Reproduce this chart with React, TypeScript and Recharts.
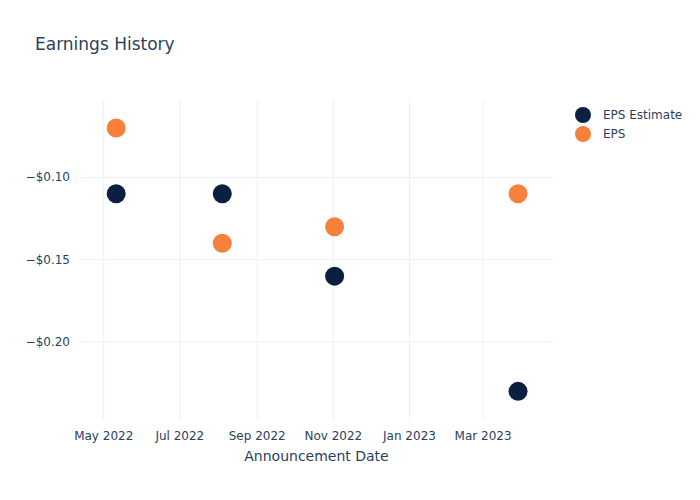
import React from "react";
import { ScatterChart, Scatter, XAxis, YAxis, ReferenceLine } from "recharts";

const dates = ["2022-05-11", "2022-08-04", "2022-11-02", "2023-03-29"];
const epsEstimate = [-0.11, -0.11, -0.16, -0.23];
const eps = [-0.07, -0.14, -0.13, -0.11];
const xTickDates = ["2022-05-01", "2022-07-01", "2022-09-01", "2022-11-01", "2023-01-01", "2023-03-01"];
const yTicks = [-0.2, -0.15, -0.1];
const months = ["Jan", "Feb", "Mar", "Apr", "May", "Jun", "Jul", "Aug", "Sep", "Oct", "Nov", "Dec"];
const seriesNames = ["EPS Estimate", "EPS"];

const ts = (d: string) => Date.parse(d + "T00:00:00Z");

const estimateData = dates.map((d, i) => ({ date: ts(d), value: epsEstimate[i] }));
const epsData = dates.map((d, i) => ({ date: ts(d), value: eps[i] }));
const xTicks = xTickDates.map(ts);

const FONT = "'DejaVu Sans', Verdana, sans-serif";
const TEXT = "#2a3f5f";
const GRID = "#ebf0f8";
const NAVY = "#0b1f41";
const ORANGE = "#f7803a";
const colors = [NAVY, ORANGE];

const fmtDate = (t: number) => {
  const d = new Date(t);
  return `${months[d.getUTCMonth()]} ${d.getUTCFullYear()}`;
};
const fmtMoney = (v: number) => `${v < 0 ? "\u2212" : ""}$${Math.abs(v).toFixed(2)}`;

const XTick = (props: any) => (
  <text x={props.x} y={props.y + 12} textAnchor="middle" fill={TEXT} fontSize={12} fontFamily={FONT}>
    {fmtDate(props.payload.value)}
  </text>
);

const YTick = (props: any) => (
  <text x={props.x - 2} y={props.y + 4} textAnchor="end" fill={TEXT} fontSize={12} fontFamily={FONT}>
    {fmtMoney(props.payload.value)}
  </text>
);

const Dot = (color: string) => (props: any) => <circle cx={props.cx} cy={props.cy} r={9.5} fill={color} />;

const App = () => {
  return (
    <div style={{ position: "absolute", left: 0, top: 0, width: 700, height: 500, background: "#fff" }}>
      <div
        style={{
          position: "absolute",
          left: 35,
          top: 34,
          fontFamily: FONT,
          fontSize: 17,
          color: TEXT,
          whiteSpace: "nowrap",
        }}
      >
        Earnings History
      </div>
      <div style={{ position: "absolute", left: 574, top: 105, fontFamily: FONT, fontSize: 12, color: TEXT }}>
        {seriesNames.map((name, i) => (
          <div key={name} style={{ display: "flex", alignItems: "center", height: 19 }}>
            <svg width={18} height={18} style={{ marginRight: 11 }}>
              <circle cx={9} cy={9} r={8} fill={colors[i]} />
            </svg>
            <span>{name}</span>
          </div>
        ))}
      </div>
      <ScatterChart width={700} height={500} margin={{ top: 100, right: 147, bottom: 30, left: 20 }}>
        <XAxis
          type="number"
          dataKey="date"
          domain={[ts("2022-04-12"), ts("2023-04-26")]}
          ticks={xTicks}
          allowDataOverflow
          axisLine={false}
          tickLine={false}
          height={50}
          tick={<XTick />}
          interval={0}
          label={{
            content: (p: any) => (
              <text
                x={p.viewBox.x + p.viewBox.width / 2}
                y={461}
                textAnchor="middle"
                fill={TEXT}
                fontSize={14}
                fontFamily={FONT}
              >
                Announcement Date
              </text>
            ),
          }}
        />
        <YAxis
          type="number"
          dataKey="value"
          domain={[-0.2474, -0.053]}
          ticks={yTicks}
          allowDataOverflow
          axisLine={false}
          tickLine={false}
          width={60}
          tick={<YTick />}
          interval={0}
        />
        {xTicks.map((t) => (
          <ReferenceLine key={`x${t}`} x={t} stroke={GRID} strokeWidth={1} />
        ))}
        {yTicks.map((v) => (
          <ReferenceLine key={`y${v}`} y={v} stroke={GRID} strokeWidth={1} />
        ))}
        <Scatter name={seriesNames[0]} data={estimateData} fill={NAVY} shape={Dot(NAVY)} isAnimationActive={false} />
        <Scatter name={seriesNames[1]} data={epsData} fill={ORANGE} shape={Dot(ORANGE)} isAnimationActive={false} />
      </ScatterChart>
    </div>
  );
};

export default App;
